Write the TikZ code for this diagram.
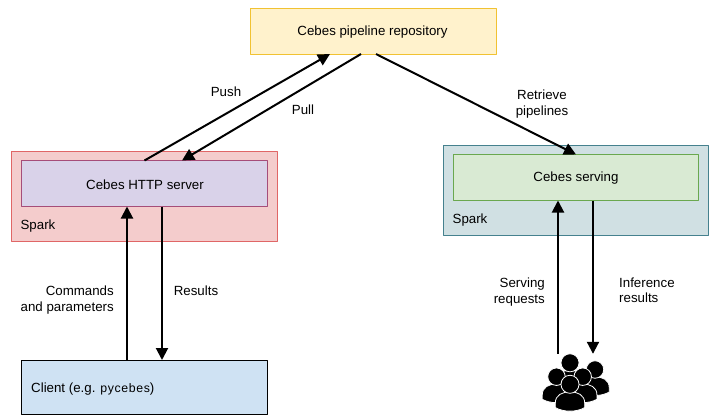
\documentclass[tikz,border=0pt]{standalone}
\usepackage{fontspec}
\setmainfont{Liberation Sans}
\usetikzlibrary{arrows.meta}
\definecolor{repofill}{HTML}{FFF2CC}
\definecolor{repoline}{HTML}{F1C232}
\definecolor{sparkfill}{HTML}{F4CCCC}
\definecolor{sparkline}{HTML}{E06666}
\definecolor{httpfill}{HTML}{D9D2E9}
\definecolor{httpline}{HTML}{A64D79}
\definecolor{servefill}{HTML}{D0E0E3}
\definecolor{serveline}{HTML}{45818E}
\definecolor{greenfill}{HTML}{D9EAD3}
\definecolor{greenline}{HTML}{6AA84F}
\definecolor{clientfill}{HTML}{CFE2F3}
\tikzset{
	box/.style={draw, line width=1pt, outer sep=0pt, minimum width=#1},
	flow/.style={->, line width=2pt},
	label/.style={align=#1, inner sep=0pt, text height=9pt, text depth=2.5pt},
	label/.default=center,
	head/.style={fill=black, draw=white, line width=0.8pt},
	pics/person/.style={code={
		\path[head] (-15.5,24.5) -- (-15.5,20) .. controls (-15.5,11) and (-8,8) .. (0,8) .. controls (8,8) and (15.5,11) .. (15.5,20) -- (15.5,24.5) .. controls (7,29.5) and (-7,29.5) .. cycle;
		\path[head] (0,0) circle (9.5);
	}}
}
\begin{document}
\begin{tikzpicture}[x=1pt, y=-1pt, >={Triangle[length=12pt,width=12pt]}, font=\fontsize{13.3}{15.5}\selectfont, line join=round]
	\useasboundingbox (0,0) rectangle (718,418);
	% boxes
	\node[box=246pt, minimum height=46pt, fill=repofill, draw=repoline] (repo) at (373,31) {};
	\node (repotext) at (372.5,32) {Cebes pipeline repository};
	\node[box=265.5pt, minimum height=90pt, fill=sparkfill, draw=sparkline] (sparkleft) at (144.5,196.5) {};
	\node[box=246pt, minimum height=46pt, fill=httpfill, draw=httpline] (http) at (144.5,183.5) {};
	\node (httptext) at (145,184.5) {Cebes HTTP server};
	\node[box=264.5pt, minimum height=90pt, fill=servefill, draw=serveline] (sparkright) at (575.75,190.5) {};
	\node[box=245pt, minimum height=46pt, fill=greenfill, draw=greenline] (serving) at (576,177.5) {};
	\node (servingtext) at (576,178.5) {Cebes serving};
	\node[box=246pt, minimum height=54pt, fill=clientfill, draw=black] (client) at (144.5,387) {};
	\node[label=left, anchor=west] (clienttext) at (31,389) {Client (e.g. {\fontsize{12.3}{15}\selectfont\addfontfeature{LetterSpace=5}pycebes})};
	\node[label] (sparklefttext) at (38,226) {Spark};
	\node[label] (sparkrighttext) at (470,220) {Spark};
	% users
	\node[minimum width=65pt, minimum height=58pt, inner sep=0pt] (users) at (576,383) {};
	\begin{scope}
		\pic[scale=0.92] at (595,369.5) {person};
		\pic[scale=0.95] at (570,362.8) {person};
		\pic[scale=0.92] at (556.5,376.7) {person};
		\pic[scale=0.92] at (582.7,376.7) {person};
		\pic[scale=0.95] at (570,384.3) {person};
	\end{scope}
	% arrows
	\draw[flow] (http.north) -- ([xshift=-43pt]repo.south);
	\draw[flow] ([xshift=-12pt]repo.south) -- ([xshift=37.5pt]http.north);
	\draw[flow] ([xshift=3pt]repo.south) -- (serving.north);
	\draw[flow] ([xshift=-17.5pt]client.north) -- ([xshift=-17.5pt]http.south);
	\draw[flow] ([xshift=17.5pt]http.south) -- ([xshift=17.5pt]client.north);
	\draw[flow] ([xshift=-18pt]users.north) -- ([xshift=-18pt]serving.south);
	\draw[flow] ([xshift=17pt]serving.south) -- ([xshift=17pt]users.north);
	% labels
	\node[label] (pushtext) at (226,93) {Push};
	\node[label] (pulltext) at (303,111) {Pull};
	\node[align=center, inner sep=0pt] (retrievetext) at (542,104) {Retrieve\\pipelines};
	\node[align=right, inner sep=0pt, anchor=east] (commandstext) at (114,300) {Commands\\and parameters};
	\node[label] (resultstext) at (196,292) {Results};
	\node[align=right, inner sep=0pt, anchor=east] (requeststext) at (545,292) {Serving\\requests};
	\node[align=left, inner sep=0pt, anchor=west] (inferencetext) at (619,290) {Inference\\results};
\end{tikzpicture}
\end{document}
